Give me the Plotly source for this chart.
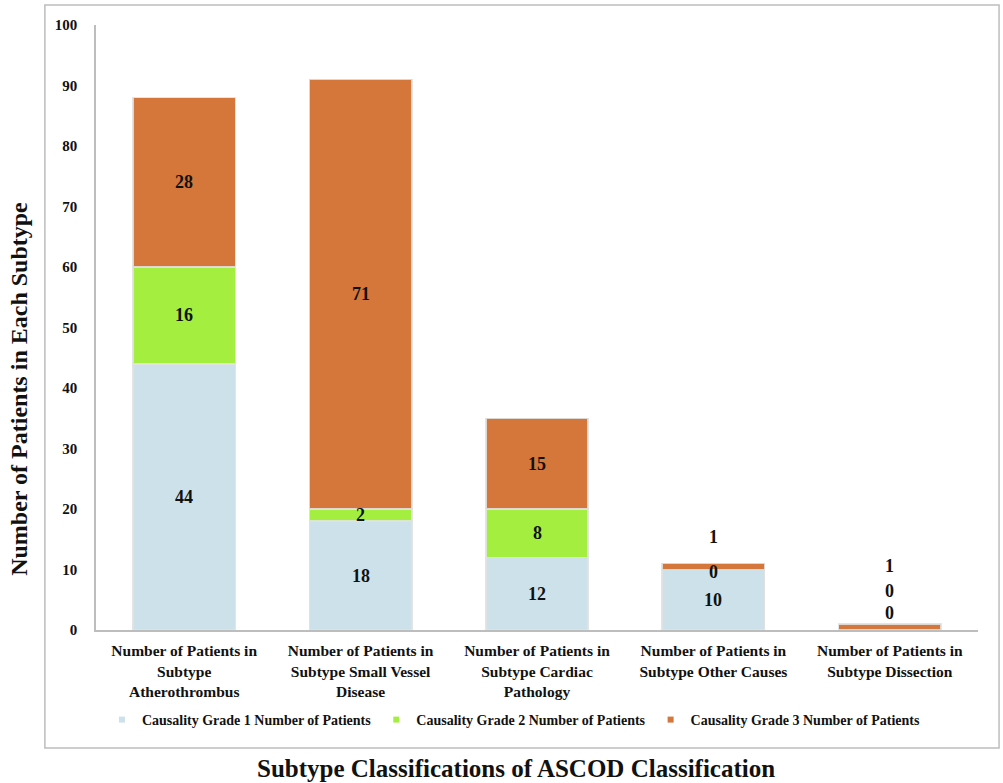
import plotly.graph_objects as go

categories = [
    "Number of Patients in<br>Subtype<br>Atherothrombus",
    "Number of Patients in<br>Subtype Small Vessel<br>Disease",
    "Number of Patients in<br>Subtype Cardiac<br>Pathology",
    "Number of Patients in<br>Subtype Other Causes",
    "Number of Patients in<br>Subtype Dissection",
]
grade1 = [44, 18, 12, 10, 0]
grade2 = [16, 2, 8, 0, 0]
grade3 = [28, 71, 15, 1, 1]
series_names = [
    "Causality Grade 1 Number of Patients",
    "Causality Grade 2 Number of Patients",
    "Causality Grade 3 Number of Patients",
]
colors = ["#CCE1EA", "#A3EE3E", "#D5763A"]
y_ticks = list(range(0, 101, 10))

FONT = "Liberation Serif"
W, H = 1003, 783
ml, mr, mt, mb = 96, 25, 25, 153

fig = go.Figure()
for name, vals, col in zip(series_names, [grade1, grade2, grade3], colors):
    fig.add_trace(go.Bar(
        x=categories, y=vals, name=name, showlegend=False,
        marker=dict(color=col, line=dict(color="rgba(225,225,225,0.9)", width=1.5)),
    ))
# small square legend keys
for name, col in zip(series_names, colors):
    fig.add_trace(go.Scatter(
        x=[None], y=[None], mode="markers", name=name,
        marker=dict(symbol="square", size=6, color=col),
    ))

# data labels
ann = []
for i, cat in enumerate(categories):
    g1, g2, g3 = grade1[i], grade2[i], grade3[i]
    segs = [(g1, 0), (g2, g1), (g3, g1 + g2)]
    small = (g1 + g2 + g3) < 15
    for k, (v, base) in enumerate(segs):
        y = base + v / 2
        shift = 0
        if small:
            if g1 + g2 == 0:
                y = 0
                shift = [17, 39, 64][k]
            else:
                shift = [0, -2, 29][k]
        ann.append(dict(x=cat, y=y, text="<b>%d</b>" % v, showarrow=False,
                        xref="x", yref="y", yshift=shift,
                        font=dict(family=FONT, size=18, color="#111")))

ann.append(dict(text="<b>Subtype Classifications of ASCOD Classification</b>",
                xref="paper", yref="paper", x=(515 - ml) / 880, y=(630 - 768) / 605,
                xanchor="center", yanchor="middle", showarrow=False,
                font=dict(family=FONT, size=25, color="#111")))
ann.append(dict(text="<b>Number of Patients in Each Subtype</b>", textangle=-90,
                xref="paper", yref="paper", x=(19 - ml) / 880, y=(630 - 389) / 605,
                xanchor="center", yanchor="middle", showarrow=False,
                font=dict(family=FONT, size=24, color="#111")))

fig.update_layout(
    annotations=ann,
    barmode="stack",
    bargap=0.42,
    width=W, height=H,
    margin=dict(l=ml, r=mr, t=mt, b=mb, autoexpand=False),
    plot_bgcolor="white", paper_bgcolor="white",
    font=dict(family=FONT, color="#111"),
    showlegend=True,
    legend=dict(orientation="h", x=(513 - ml) / 880, xanchor="center",
                y=(630 - 720) / 605, yanchor="middle",
                traceorder="normal",
                font=dict(family=FONT, size=14, color="#111", weight="bold"),
                itemwidth=30),
    xaxis=dict(showline=True, linecolor="#BDBDBD", linewidth=1.5, ticks="",
               tickfont=dict(family=FONT, size=15.5, color="#111", weight="bold"),
               ticklabelstandoff=6,
               range=[-0.5, 4.5]),
    yaxis=dict(range=[0, 100], tickvals=y_ticks, showgrid=False, zeroline=False,
               showline=True, linecolor="#BDBDBD", linewidth=1.5, ticks="",
               tickfont=dict(family=FONT, size=15, color="#111", weight="bold"),
               ticklabelstandoff=14),
    shapes=[dict(type="rect", xref="paper", yref="paper",
                 x0=(45 - ml) / 880, x1=(997 - ml) / 880,
                 y0=(630 - 748) / 605, y1=1 + 20 / 605,
                 line=dict(color="#BDBDBD", width=1.5), fillcolor="rgba(0,0,0,0)")],
)
fig.write_html("out.html")
